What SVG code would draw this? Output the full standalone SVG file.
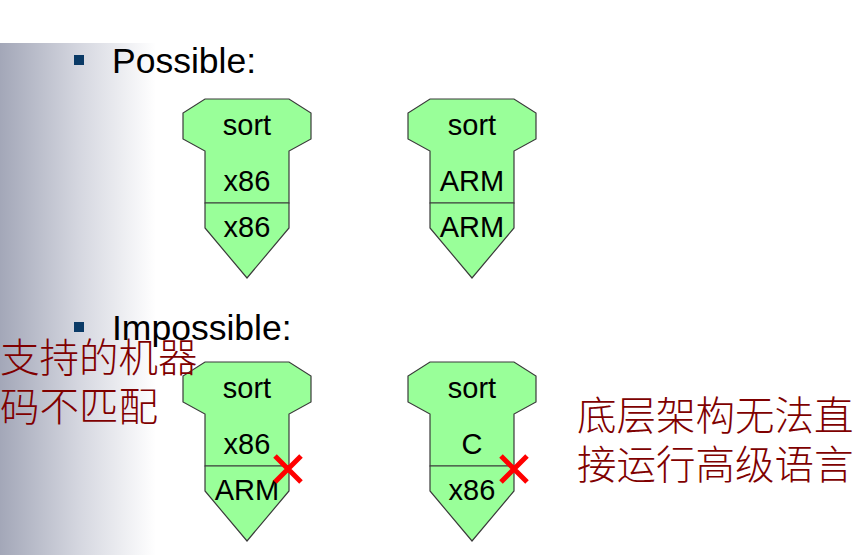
<svg xmlns="http://www.w3.org/2000/svg" width="868" height="555" viewBox="0 0 868 555">
<defs>
<linearGradient id="bandGrad" gradientUnits="userSpaceOnUse" x1="0" y1="0" x2="156" y2="0">
<stop offset="0" stop-color="#a3a7b8"/>
<stop offset="0.5" stop-color="#d4d6df"/>
<stop offset="1" stop-color="#ffffff"/>
</linearGradient>
<style>
.head{fill:#99ff99;stroke:#3a3a3a;stroke-width:1.2;stroke-linejoin:miter}
.lbl{font-family:"Liberation Sans",Arial,sans-serif;font-size:29px;fill:#000;text-anchor:middle}
.bul{font-family:"Liberation Sans",Arial,sans-serif;font-size:35.5px;fill:#000}
.cn{font-family:"Noto Sans CJK SC","Noto Sans CJK TC",sans-serif;font-size:39.5px;fill:#800000;font-weight:300}
.x{stroke:#ff0000;stroke-width:5;fill:none}
</style>
</defs>
<rect x="0" y="0" width="868" height="555" fill="#ffffff"/>
<rect x="0" y="43" width="160" height="512" fill="url(#bandGrad)"/>

<g id="bullet-possible">
<rect x="74" y="55" width="10" height="10" fill="#0a3a66"/>
<text class="bul" x="112" y="73">Possible:</text>
</g>
<g id="bullet-impossible">
<rect x="74" y="322" width="10" height="10" fill="#0a3a66"/>
<text class="bul" x="112" y="340">Impossible:</text>
</g>

<g id="node-sort-x86-x86">
<polygon class="head" points="205,99 289,99 311,113 311,139 289,151 289,203 205,203 205,151 183,139 183,113"/>
<polygon class="head" points="205,203 289,203 289,228 247,278 205,228"/>
<text class="lbl" x="247" y="135">sort</text>
<text class="lbl" x="247" y="191">x86</text>
<text class="lbl" x="247" y="237">x86</text>
</g>

<g id="node-sort-arm-arm" transform="translate(225,0)">
<polygon class="head" points="205,99 289,99 311,113 311,139 289,151 289,203 205,203 205,151 183,139 183,113"/>
<polygon class="head" points="205,203 289,203 289,228 247,278 205,228"/>
<text class="lbl" x="247" y="135">sort</text>
<text class="lbl" x="247" y="191">ARM</text>
<text class="lbl" x="247" y="237">ARM</text>
</g>

<g id="node-sort-x86-arm" transform="translate(0,263)">
<polygon class="head" points="205,99 289,99 311,113 311,139 289,151 289,203 205,203 205,151 183,139 183,113"/>
<polygon class="head" points="205,203 289,203 289,228 247,278 205,228"/>
<text class="lbl" x="247" y="135">sort</text>
<text class="lbl" x="247" y="191">x86</text>
<text class="lbl" x="247" y="237">ARM</text>
</g>

<g id="node-sort-c-x86" transform="translate(225,263)">
<polygon class="head" points="205,99 289,99 311,113 311,139 289,151 289,203 205,203 205,151 183,139 183,113"/>
<polygon class="head" points="205,203 289,203 289,228 247,278 205,228"/>
<text class="lbl" x="247" y="135">sort</text>
<text class="lbl" x="247" y="191">C</text>
<text class="lbl" x="247" y="237">x86</text>
</g>

<g id="connectors">
<path class="x" d="M275,456 L301,482 M301,456 L275,482"/>
<path class="x" d="M501,456 L527,482 M527,456 L501,482"/>
</g>

<g id="note-left">
<text class="cn" x="0" y="372">支持的机器</text>
<text class="cn" x="0" y="421">码不匹配</text>
</g>
<g id="note-right">
<text class="cn" x="577" y="430">底层架构无法直</text>
<text class="cn" x="577" y="479">接运行高级语言</text>
</g>
</svg>
